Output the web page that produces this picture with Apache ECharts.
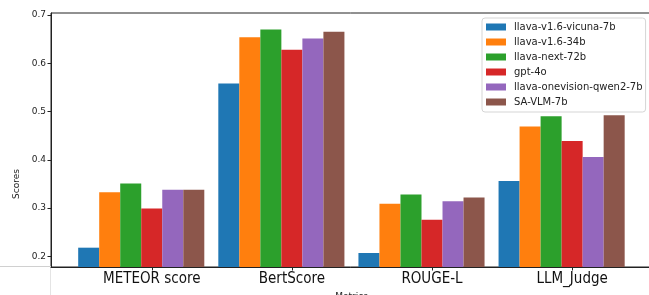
<!DOCTYPE html>
<html>
<head>
<meta charset="utf-8">
<script src="https://cdn.jsdelivr.net/npm/echarts@6/dist/echarts.min.js"></script>
<style>
  html, body { margin: 0; padding: 0; background: #fff; }
  #chart { width: 649px; height: 295px; }
</style>
</head>
<body>
<div id="chart"></div>
<script>
// metrics on the x axis
const metrics = ["METEOR score", "BertScore", "ROUGE-L", "LLM_Judge"];

// one array per model, same order as metrics
const vicuna7b = [0.218, 0.558, 0.207, 0.356];
const llava34b = [0.333, 0.654, 0.309, 0.469];
const next72b = [0.351, 0.670, 0.328, 0.490];
const gpt4o = [0.299, 0.628, 0.276, 0.439];
const onevision7b = [0.338, 0.651, 0.314, 0.406];
const saVlm7b = [0.338, 0.665, 0.322, 0.492];

const yTicks = [0.2, 0.3, 0.4, 0.5, 0.6, 0.7];

const models = [
  { name: "llava-v1.6-vicuna-7b", data: vicuna7b, color: "#1f77b4" },
  { name: "llava-v1.6-34b", data: llava34b, color: "#ff7f0e" },
  { name: "llava-next-72b", data: next72b, color: "#2ca02c" },
  { name: "gpt-4o", data: gpt4o, color: "#d62728" },
  { name: "llava-onevision-qwen2-7b", data: onevision7b, color: "#9467bd" },
  { name: "SA-VLM-7b", data: saVlm7b, color: "#8c564b" },
];

// bar width 0.15 of a category; group sits half a bar left of the tick
const BAR_W = 0.15;
const tickPos = metrics.map((m, i) => i);

const FONT = "DejaVu Sans";
const LABEL_FONT = "'DejaVu Sans Condensed', 'DejaVu Sans'";

const chart = echarts.init(document.getElementById("chart"));

chart.setOption({
  animation: false,
  grid: {
    left: 51,
    right: -3,
    top: 13,
    bottom: 28,
    show: true,
    borderColor: "#222",
    borderWidth: 1,
    outerBoundsMode: "none",
  },
  legend: {
    data: models.map((m) => m.name),
    orient: "vertical",
    left: 482,
    top: 18,
    padding: [3, 3, 4, 4],
    itemWidth: 20,
    itemHeight: 7,
    itemGap: 3,
    backgroundColor: "rgba(255,255,255,0.8)",
    borderColor: "#d5d5d5",
    borderWidth: 1,
    borderRadius: 3,
    icon: "rect",
    textStyle: {
      fontFamily: FONT,
      fontSize: 10,
      color: "#222",
      lineHeight: 12,
      padding: [0, 0, 0, 3],
    },
  },
  xAxis: {
    type: "value",
    min: -0.719,
    max: 3.57,
    name: "Metrics",
    nameLocation: "middle",
    nameGap: 22,
    nameTextStyle: { fontFamily: FONT, fontSize: 9, color: "#222" },
    splitLine: { show: false },
    axisLine: { show: true, onZero: false, lineStyle: { color: "#222" } },
    axisTick: {
      show: true,
      length: 3.5,
      customValues: tickPos,
      lineStyle: { color: "#222" },
    },
    axisLabel: {
      customValues: tickPos,
      margin: 5,
      fontFamily: LABEL_FONT,
      fontSize: 15,
      color: "#111",
      formatter: (v) => metrics[Math.round(v)],
    },
  },
  yAxis: {
    type: "value",
    min: 0.178,
    max: 0.704,
    name: "Scores",
    nameLocation: "middle",
    nameGap: 26,
    nameTextStyle: {
      fontFamily: FONT,
      fontSize: 9,
      color: "#222",
      padding: [0, 88, 0, 0],
    },
    splitLine: { show: false },
    axisLine: { show: true, onZero: false, lineStyle: { color: "#222" } },
    axisTick: {
      show: true,
      length: 3.5,
      customValues: yTicks,
      lineStyle: { color: "#222" },
    },
    axisLabel: {
      customValues: yTicks,
      margin: 5,
      fontFamily: FONT,
      fontSize: 9,
      color: "#222",
      formatter: (v) => v.toFixed(1),
    },
  },
  series: models.map((m) => ({
    name: m.name,
    type: "bar",
    barWidth: "15%",
    barGap: "0%",
    itemStyle: { color: m.color },
    data: m.data.map((v, i) => [tickPos[i] - BAR_W / 2, v]),
  })),
  graphic: [
    {
      type: "line",
      shape: { x1: 0, y1: 266.5, x2: 51, y2: 266.5 },
      style: { stroke: "#d0d0d0", lineWidth: 1 },
    },
    {
      type: "line",
      shape: { x1: 50.5, y1: 267, x2: 50.5, y2: 295 },
      style: { stroke: "#e4e4e4", lineWidth: 1 },
    },
  ],
});
</script>
</body>
</html>
